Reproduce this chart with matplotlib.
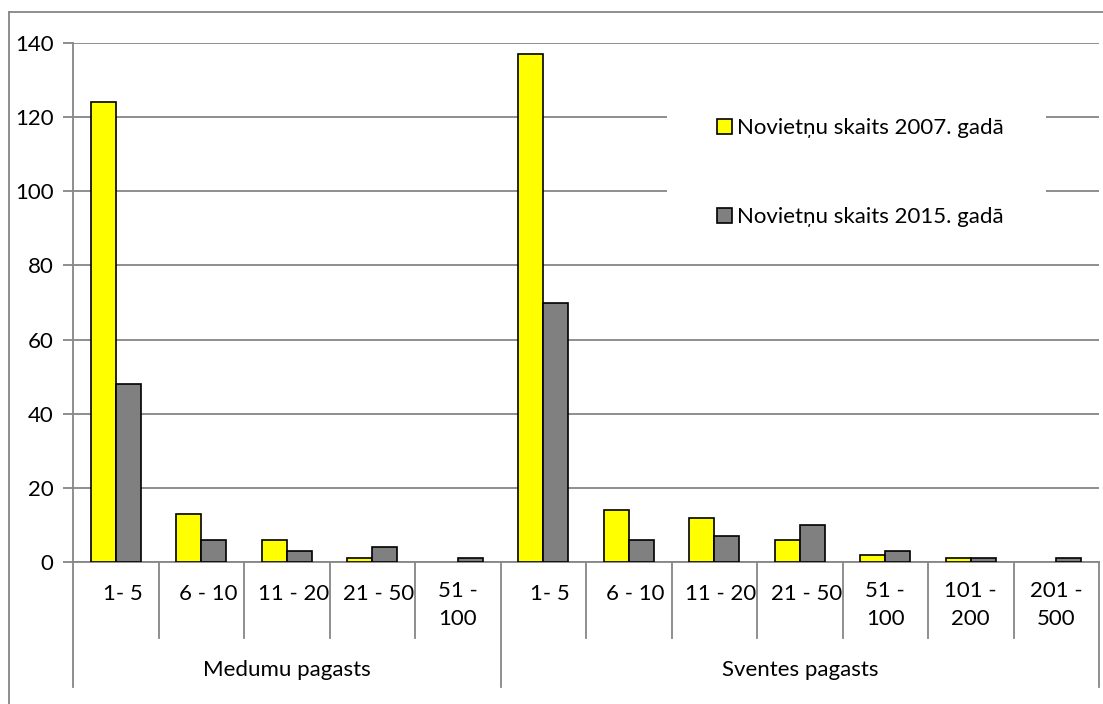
import matplotlib.pyplot as plt
import numpy as np
from matplotlib.patches import Rectangle
from matplotlib.lines import Line2D

# data
groups = ["Medumu pagasts", "Sventes pagasts"]
medumu_bins = ["1- 5", "6 - 10", "11 - 20", "21 - 50", "51 -\n100"]
sventes_bins = ["1- 5", "6 - 10", "11 - 20", "21 - 50", "51 -\n100", "101 -\n200", "201 -\n500"]
medumu_2007 = [124, 13, 6, 1, 0]
medumu_2015 = [48, 6, 3, 4, 1]
sventes_2007 = [137, 14, 12, 6, 2, 1, 0]
sventes_2015 = [70, 6, 7, 10, 3, 1, 1]
series_names = ["Novietņu skaits 2007. gadā", "Novietņu skaits 2015. gadā"]

plt.rcParams['font.family'] = ['Lato', 'DejaVu Sans']
W, H = 1103, 704
fig = plt.figure(figsize=(W / 100, H / 100), dpi=100)
FS = 16


def fx(px):
    return px / W


def fy(py):
    return 1 - py / H


left_px, right_px, top_px, bot_px = 73, 1099, 43, 562
ax = fig.add_axes([fx(left_px), fy(bot_px), fx(right_px) - fx(left_px), fy(top_px) - fy(bot_px)])


def ypos(py):
    # pixel row -> axes fraction
    return (fy(py) - fy(bot_px)) / (fy(top_px) - fy(bot_px))


labels = medumu_bins + sventes_bins
v2007 = medumu_2007 + sventes_2007
v2015 = medumu_2015 + sventes_2015
n = len(labels)
x = np.arange(n)
bw = 0.29
grey = "#868686"

b1 = ax.bar(x - bw / 2, v2007, bw, color="#FFFF00", edgecolor="black", linewidth=1.2,
            label=series_names[0], zorder=3)
b2 = ax.bar(x + bw / 2, v2015, bw, color="#808080", edgecolor="black", linewidth=1.2,
            label=series_names[1], zorder=3)
# zero-valued bars are not drawn in the original
for bars in (b1, b2):
    for p in bars:
        if p.get_height() == 0:
            p.set_visible(False)

ax.set_xlim(-0.5, n - 0.5)
ax.set_ylim(0, 140)
ax.set_yticks(range(0, 141, 20))
ax.yaxis.grid(True, color=grey, linewidth=1.3)
ax.set_axisbelow(True)
ax.tick_params(axis='y', length=7, width=1.3, color=grey, labelsize=FS, pad=7)
ax.tick_params(axis='x', length=0, labelbottom=False)
for s in ["top", "right"]:
    ax.spines[s].set_visible(False)
for s in ["left", "bottom"]:
    ax.spines[s].set_color(grey)
    ax.spines[s].set_linewidth(1.3)

# category labels and separators below the axis
trans = ax.get_xaxis_transform()
for i, lab in enumerate(labels):
    if "\n" in lab:
        ax.text(i, ypos(581), lab, transform=trans, ha="center", va="top",
                fontsize=FS, linespacing=1.5, clip_on=False)
    else:
        ax.text(i + 0.08, ypos(594), lab, transform=trans, ha="center", va="center",
                fontsize=FS, clip_on=False)

group_sizes = [len(medumu_bins), len(sventes_bins)]
bounds = np.arange(n + 1) - 0.5
group_edges = [-0.5, group_sizes[0] - 0.5, n - 0.5]
for b in bounds:
    ybot = 687 if b in group_edges else 638
    ax.add_line(Line2D([b, b], [0, ypos(ybot)], transform=trans, color=grey,
                       linewidth=1.3, clip_on=False))
start = -0.5
for g, size in zip(groups, group_sizes):
    ax.text(start + size / 2, ypos(670), g, transform=trans, ha="center", va="center",
            fontsize=FS, clip_on=False)
    start += size

# white legend background hiding gridlines
ax.add_patch(Rectangle((fx(667), fy(250)), fx(1046) - fx(667), fy(70) - fy(250),
                       transform=fig.transFigure, facecolor="white", edgecolor="none", zorder=1))
leg = ax.legend(loc="upper left", bbox_to_anchor=(fx(706), fy(107)),
                bbox_transform=fig.transFigure, frameon=False, fontsize=FS,
                handlelength=0.65, handleheight=0.65, handletextpad=0.25,
                labelspacing=3.1, borderpad=0)

# outer chart border (left and top visible)
fig.add_artist(Line2D([fx(9), fx(9)], [fy(12), 0], color=grey, linewidth=1.3))
fig.add_artist(Line2D([fx(9), 1], [fy(12), fy(12)], color=grey, linewidth=1.3))

fig.savefig("out.png", dpi=100)
